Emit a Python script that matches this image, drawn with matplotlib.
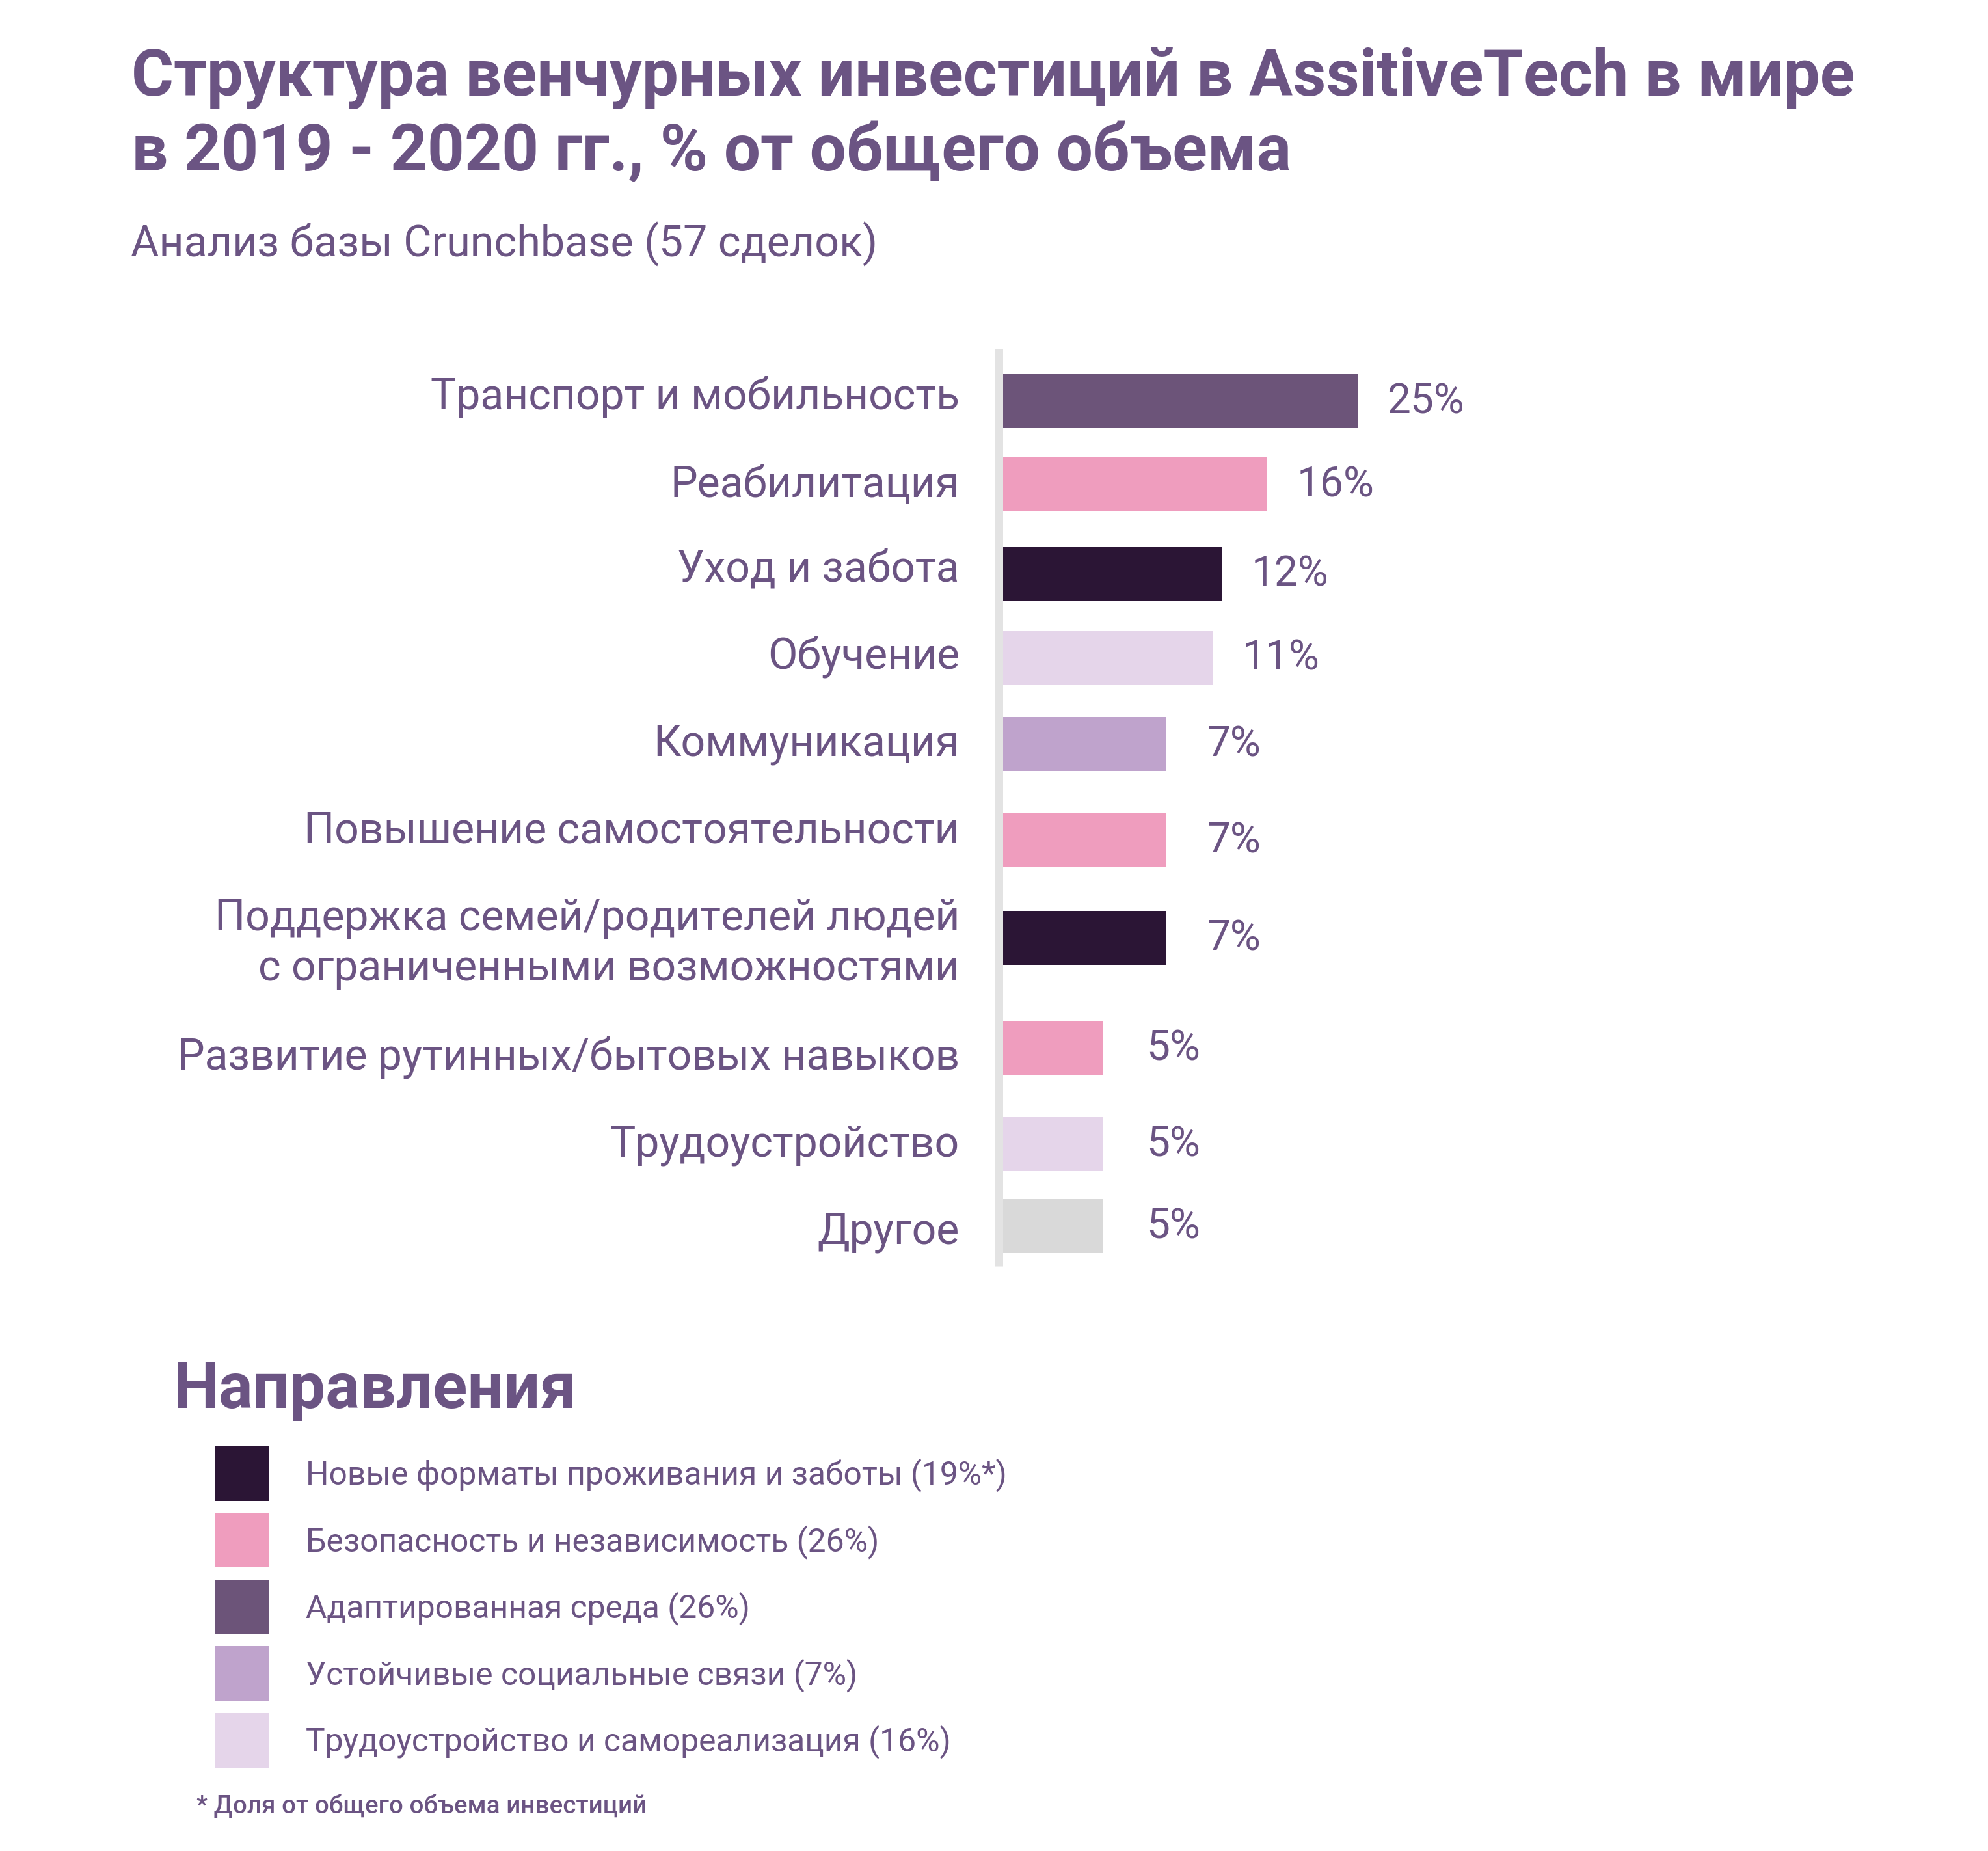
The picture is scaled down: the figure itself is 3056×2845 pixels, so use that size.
import matplotlib
matplotlib.use("Agg")
import matplotlib.pyplot as plt
from matplotlib.patches import Rectangle

# ---------------- data ----------------
categories = [
    "Транспорт и мобильность",
    "Реабилитация",
    "Уход и забота",
    "Обучение",
    "Коммуникация",
    "Повышение самостоятельности",
    "Поддержка семей/родителей людей\nс ограниченными возможностями",
    "Развитие рутинных/бытовых навыков",
    "Трудоустройство",
    "Другое",
]
value_labels = ["25%", "16%", "12%", "11%", "7%", "7%", "7%", "5%", "5%", "5%"]
# bar lengths as drawn in the picture (in % units, calibrated on the 25% bar)
bar_lengths = [25.0, 18.6, 15.4, 14.8, 11.5, 11.5, 11.5, 7.0, 7.0, 7.0]
bar_groups = ["adapt", "safety", "new", "work", "social", "safety", "new", "safety", "work", "other"]

legend_groups = ["new", "safety", "adapt", "social", "work"]
legend_labels = [
    "Новые форматы проживания и заботы (19%*)",
    "Безопасность и независимость (26%)",
    "Адаптированная среда (26%)",
    "Устойчивые социальные связи (7%)",
    "Трудоустройство и самореализация (16%)",
]

title_lines = ["Структура венчурных инвестиций в AssitiveTech в мире",
               "в 2019 - 2020 гг., % от общего объема"]
subtitle = "Анализ базы Crunchbase (57 сделок)"
legend_title = "Направления"
footnote = "* Доля от общего объема инвестиций"

# ---------------- style / layout ----------------
group_colors = {
    "new": "#2B1535",
    "safety": "#EF9DBE",
    "adapt": "#6C5479",
    "social": "#BFA3CC",
    "work": "#E5D5EA",
    "other": "#D9D9D9",
}
TXT = "#6B5483"
AXIS_GRAY = "#E3E3E3"

W, H, DPI = 3056, 2845, 100
plt.rcParams["font.family"] = ["Roboto", "DejaVu Sans"]

fig = plt.figure(figsize=(W / DPI, H / DPI), dpi=DPI)
fig.patch.set_facecolor("white")

# overlay axes in pixel coordinates for text / legend
ov = fig.add_axes([0, 0, 1, 1])
ov.set_xlim(0, W)
ov.set_ylim(H, 0)
ov.axis("off")

# bar axes: x in % units, y in pixel rows
BX0, BX1 = 1542, 3000
BY0, BY1 = 536, 1946
PX_PER_UNIT = 545 / 25.0
ax = fig.add_axes([BX0 / W, 1 - BY1 / H, (BX1 - BX0) / W, (BY1 - BY0) / H])
ax.set_xlim(0, (BX1 - BX0) / PX_PER_UNIT)
ax.set_ylim(BY1, BY0)
ax.axis("off")
ax.patch.set_alpha(0)

row_centers = [616.5, 744.5, 881.5, 1011, 1143.5, 1291.5, 1441.5, 1610, 1758, 1884]
label_baselines = [629, 763, 894, 1028, 1162, 1296, 1430, 1643, 1777, 1911]
value_gap_px = [45, 46, 46, 45, 63, 63, 63, 68, 68, 68]
BAR_H = 83

ax.barh(row_centers, bar_lengths, height=BAR_H, left=0,
        color=[group_colors[g] for g in bar_groups], linewidth=0)

# gray vertical axis line
ax.plot([-7 / PX_PER_UNIT, -7 / PX_PER_UNIT], [BY0, BY1], color=AXIS_GRAY,
        lw=13 * 72 / DPI, solid_capstyle="butt", clip_on=False)

renderer = fig.canvas.get_renderer()


def fit_size(txt, target_w, weight="normal", start=40):
    t = ov.text(0, 0, txt, fontsize=start, fontweight=weight)
    w = t.get_window_extent(renderer).width
    t.remove()
    return start * target_w / w


# title
title_fs = fit_size(title_lines[0], 2653, "bold", 70)
ov.text(202, 147, title_lines[0], fontsize=title_fs, fontweight="bold", color=TXT, va="baseline", ha="left")
ov.text(202, 262, title_lines[1], fontsize=title_fs, fontweight="bold", color=TXT, va="baseline", ha="left")

sub_fs = fit_size(subtitle, 1148, "normal", 45)
ov.text(201, 395, subtitle, fontsize=sub_fs, color=TXT, va="baseline", ha="left")

# category labels
cat_fs = fit_size(categories[0], 813, "normal", 45)
LINE_GAP = 77
for lab, base in zip(categories, label_baselines):
    for k, line in enumerate(lab.split("\n")):
        ov.text(1475, base + k * LINE_GAP, line, fontsize=cat_fs, color=TXT,
                ha="right", va="baseline")

# value labels
val_fs = fit_size(value_labels[0], 119, "normal", 45)
for yc, L, lab, gap in zip(row_centers, bar_lengths, value_labels, value_gap_px):
    ax.text(L + gap / PX_PER_UNIT, yc + 19, lab, fontsize=val_fs, color=TXT,
            ha="left", va="baseline")

# legend
lt_fs = fit_size(legend_title, 620, "bold", 70)
ov.text(267, 2164, legend_title, fontsize=lt_fs, fontweight="bold", color=TXT, va="baseline", ha="left")

leg_fs = fit_size(legend_labels[0], 1078, "normal", 35)
leg_centers = [2264.5, 2367, 2469.5, 2572, 2674.5]
SQ = 84
for yc, g, lab in zip(leg_centers, legend_groups, legend_labels):
    ov.add_patch(Rectangle((330, yc - SQ / 2), SQ, SQ, color=group_colors[g], lw=0))
    ov.text(470, yc + 17, lab, fontsize=leg_fs, color=TXT, va="baseline", ha="left")

fn_fs = fit_size(footnote, 690, "medium", 28)
ov.text(302, 2787, footnote, fontsize=fn_fs, fontweight="medium", color=TXT, va="baseline", ha="left")

fig.savefig("out.png", dpi=DPI, facecolor="white")
